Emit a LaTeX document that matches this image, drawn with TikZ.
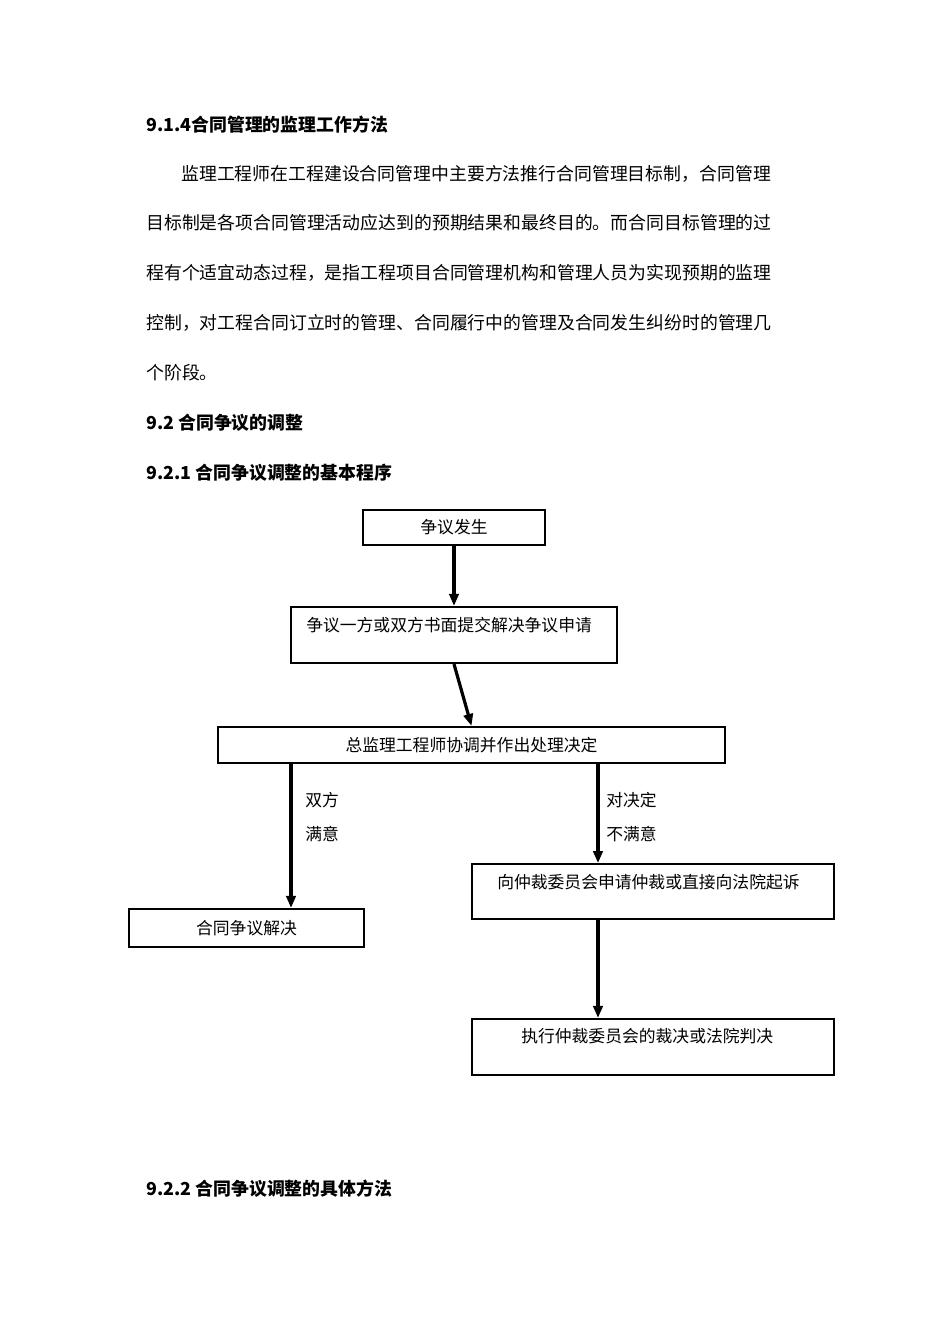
\documentclass[tikz,border=0pt]{standalone}
\usepackage{fontspec}
\setmainfont{Noto Sans CJK SC}
\usetikzlibrary{arrows.meta}
\tikzset{
 txt/.style={anchor=west,inner sep=0pt,font=\fontsize{13.4pt}{14pt}\selectfont},
 hd/.style={txt,font=\fontsize{13.4pt}{14pt}\selectfont\bfseries},
 ft/.style={anchor=west,inner sep=0pt,font=\fontsize{12.6pt}{14pt}\selectfont},
 box/.style={draw,line width=1.6pt,inner sep=0pt},
 arr/.style={line width=2.4pt,-{Triangle[length=9pt,width=7pt]}}
}
\begin{document}
\begin{tikzpicture}[x=0.75pt,y=-0.75pt]
\useasboundingbox (0,0) rectangle (950,1344);
\node[hd] (h1) at (146,125) {9.1.4合同管理的监理工作方法};
\node[txt] (p1) at (181,174) {监理工程师在工程建设合同管理中主要方法推行合同管理目标制，合同管理};
\node[txt] (p2) at (146,223) {目标制是各项合同管理活动应达到的预期结果和最终目的。而合同目标管理的过};
\node[txt] (p3) at (146,273) {程有个适宜动态过程，是指工程项目合同管理机构和管理人员为实现预期的监理};
\node[txt] (p4) at (146,323) {控制，对工程合同订立时的管理、合同履行中的管理及合同发生纠纷时的管理几};
\node[txt] (p5) at (146,373) {个阶段。};
\node[hd] (h2) at (146,423) {9.2 合同争议的调整};
\node[hd] (h3) at (146,473) {9.2.1 合同争议调整的基本程序};
\node[hd] (h4) at (146,1189) {9.2.2 合同争议调整的具体方法};

\node[box,minimum width=136.5pt,minimum height=26pt] (b1) at (454,527.5) {};
\node[ft,anchor=center] at (b1) {争议发生};
\node[box,minimum width=244.5pt,minimum height=42pt] (b2) at (454,635) {};
\node[ft] (t2) at (306,625) {争议一方或双方书面提交解决争议申请};
\node[box,minimum width=380pt,minimum height=27pt] (b3) at (471.5,745) {};
\node[ft,anchor=center] at (b3) {总监理工程师协调并作出处理决定};
\node[box,minimum width=176pt,minimum height=28.5pt] (b4) at (246.5,928) {};
\node[ft,anchor=center] at (b4) {合同争议解决};
\node[box,minimum width=271.5pt,minimum height=41pt] (b5) at (653,891.5) {};
\node[ft] (t5) at (497,882) {向仲裁委员会申请仲裁或直接向法院起诉};
\node[box,minimum width=271.5pt,minimum height=42pt] (b6) at (653,1047) {};
\node[ft] (t6) at (521,1036) {执行仲裁委员会的裁决或法院判决};

\draw[arr] (b1.south) -- (b2.north);
\draw[arr] (b2.south) -- (b3.north);
\draw[arr] (b3.south -| 291,0) -- (b4.north -| 291,0);
\draw[arr] (b3.south -| 598,0) -- (b5.north -| 598,0);
\draw[arr] (b5.south -| 598,0) -- (b6.north -| 598,0);
\node[ft] (l1) at (305,800) {双方};
\node[ft] (l2) at (305,834) {满意};
\node[ft] (l3) at (606,800) {对决定};
\node[ft] (l4) at (606,834) {不满意};
\end{tikzpicture}
\end{document}
